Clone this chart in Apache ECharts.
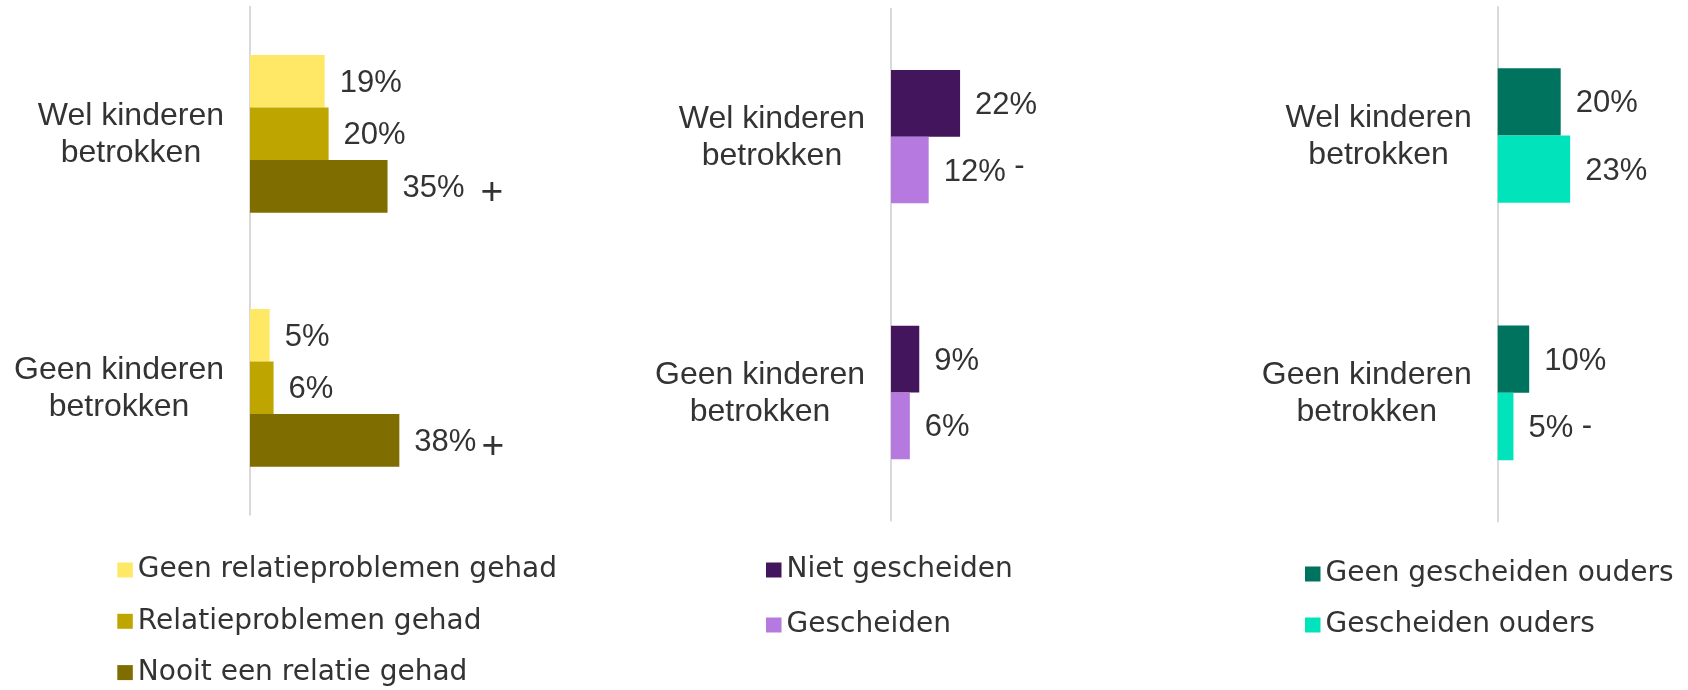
<!DOCTYPE html>
<html><head><meta charset="utf-8">
<script src="https://cdn.jsdelivr.net/npm/echarts@6/dist/echarts.min.js"></script>
<style>html,body{margin:0;padding:0;background:#fff}#c{width:1688px;height:690px}</style>
</head><body><div id="c"></div>
<script>
// ---------- data ----------
const categories = ['Wel kinderen\nbetrokken', 'Geen kinderen\nbetrokken'];

// Panel 1: relatie
const relSeriesNames = ['Geen relatieproblemen gehad', 'Relatieproblemen gehad', 'Nooit een relatie gehad'];
const relGeen = [19, 5];
const relProblemen = [20, 6];
const relNooit = [35, 38];
const relNooitSig = [' +', '+'];

// Panel 2: gescheiden
const scheidSeriesNames = ['Niet gescheiden', 'Gescheiden'];
const nietGescheiden = [22, 9];
const gescheiden = [12, 6];
const gescheidenSig = [' -', ''];

// Panel 3: ouders
const oudersSeriesNames = ['Geen gescheiden ouders', 'Gescheiden ouders'];
const geenGescheidenOuders = [20, 10];
const gescheidenOuders = [23, 5];
const gescheidenOudersSig = ['', ' -'];

// ---------- styling ----------
const FONT = 'Liberation Sans, Arial, sans-serif';
const TXT = '#333333';
const AXIS_MAX = 60;

const valueRich = {
  v: { fontFamily: FONT, fontSize: 31, lineHeight: 36, color: TXT },
  p: { fontFamily: FONT, fontSize: 39, lineHeight: 36, padding: [9, 0, 0, 5], color: TXT },
  m2: { fontFamily: FONT, fontSize: 31, lineHeight: 36, padding: [0, 0, 12, 0], color: TXT },
  m3: { fontFamily: FONT, fontSize: 31, lineHeight: 36, padding: [0, 0, 5, 0], color: TXT }
};

function labelFmt(sig, sigStyle) {
  return function (p) {
    let s = '{v|' + p.value + '%}';
    if (sig && sig[p.dataIndex]) s += '{' + sigStyle + '|' + sig[p.dataIndex] + '}';
    return s;
  };
}

function barSeries(name, data, color, gi, gap, sig, sigStyle) {
  return {
    type: 'bar', name: name, data: data,
    xAxisIndex: gi, yAxisIndex: gi,
    barGap: '0%', barCategoryGap: gap,
    itemStyle: { color: color },
    label: {
      show: true, position: 'right', distance: 15, offset: [0, 2],
      formatter: labelFmt(sig, sigStyle), rich: valueRich
    }
  };
}

const catLabel = {
  margin: 26,
  formatter: function (v) { return v.split('\n').map(l => '{c|' + l + '}').join('\n'); },
  rich: { c: { fontFamily: FONT, fontSize: 32, lineHeight: 37, align: 'center', color: TXT, padding: [2, 0, 0, 0] } }
};

function yAx(gi) {
  return {
    type: 'category', gridIndex: gi, data: categories, inverse: true,
    axisLine: { show: true, lineStyle: { color: '#d9d9d9', width: 2 } },
    axisTick: { show: false }, axisLabel: catLabel, splitLine: { show: false }
  };
}
function xAx(gi) {
  return { type: 'value', gridIndex: gi, min: 0, max: AXIS_MAX, show: false, splitLine: { show: false } };
}

function legend(names, left, top, gap) {
  return {
    data: names, orient: 'vertical', left: left, top: top, padding: 0,
    itemWidth: 15.5, itemHeight: 15, itemGap: gap, icon: 'rect', selectedMode: false,
    textStyle: { fontFamily: 'DejaVu Sans', fontSize: 28, lineHeight: 30, color: TXT }
  };
}

const option = {
  animation: false,
  backgroundColor: '#ffffff',
  grid: [
    { left: 250, top: 6.8, width: AXIS_MAX * 3.93, height: 508 },
    { left: 891, top: 8.8, width: AXIS_MAX * 3.14, height: 511.6 },
    { left: 1497.7, top: 6.9, width: AXIS_MAX * 3.15, height: 514.6 }
  ],
  xAxis: [xAx(0), xAx(1), xAx(2)],
  yAxis: [yAx(0), yAx(1), yAx(2)],
  legend: [
    legend(relSeriesNames, 117.3, 555, 21.3),
    legend(scheidSeriesNames, 766, 555, 25),
    legend(oudersSeriesNames, 1305, 559, 21)
  ],
  series: [
    barSeries(relSeriesNames[0], relGeen, '#FFE866', 0, '37.9%'),
    barSeries(relSeriesNames[1], relProblemen, '#BFA500', 0, '37.9%'),
    barSeries(relSeriesNames[2], relNooit, '#7F6D00', 0, '37.9%', relNooitSig, 'p'),
    barSeries(scheidSeriesNames[0], nietGescheiden, '#42155C', 1, '47.9%'),
    barSeries(scheidSeriesNames[1], gescheiden, '#B679DF', 1, '47.9%', gescheidenSig, 'm2'),
    barSeries(oudersSeriesNames[0], geenGescheidenOuders, '#00735F', 2, '47.7%'),
    barSeries(oudersSeriesNames[1], gescheidenOuders, '#00E3BB', 2, '47.7%', gescheidenOudersSig, 'm3')
  ]
};

const chart = echarts.init(document.getElementById('c'), null, { renderer: 'canvas' });
chart.setOption(option);
</script>
</body></html>
